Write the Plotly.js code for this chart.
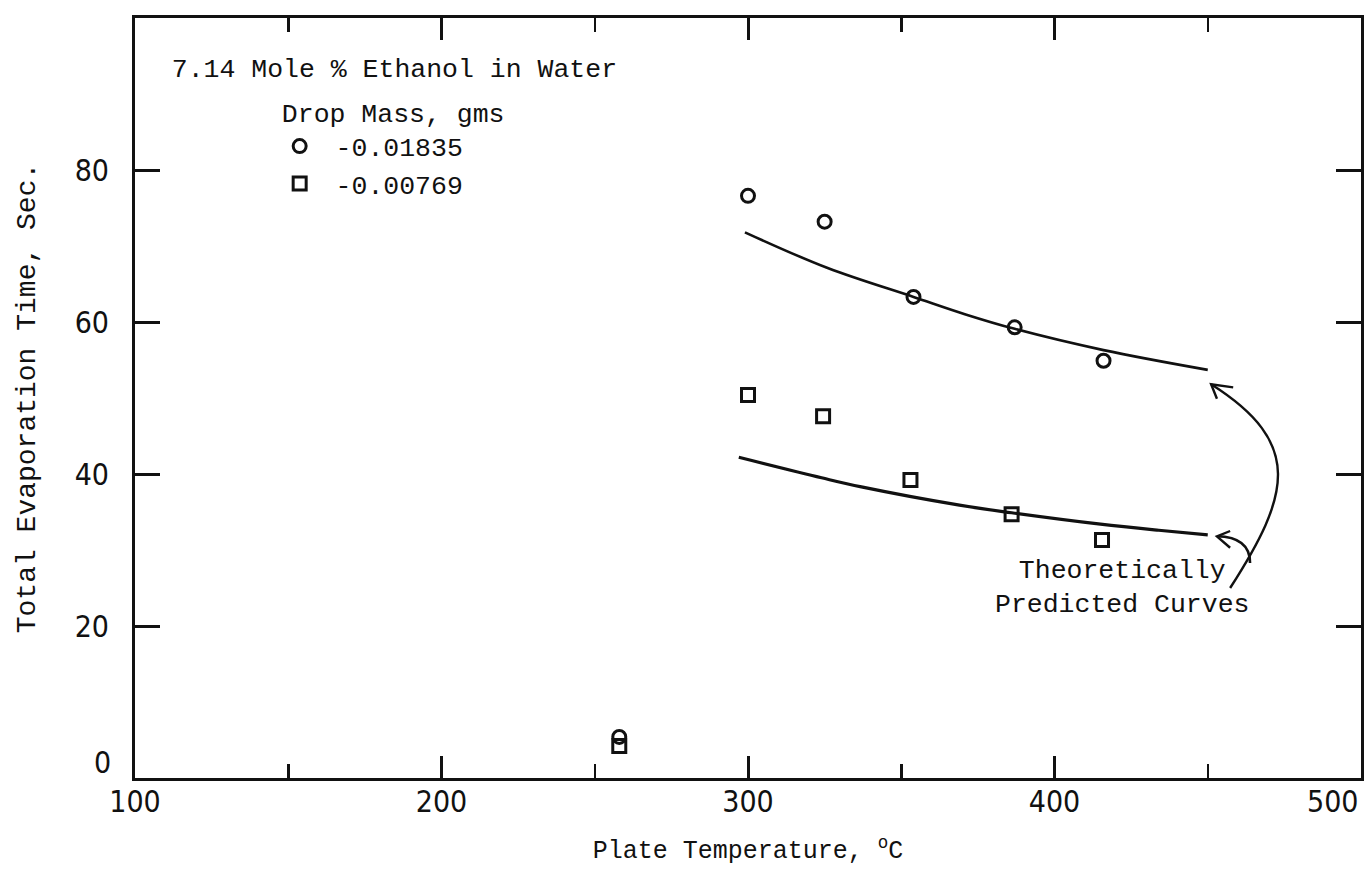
<!DOCTYPE html>
<html>
<head>
<meta charset="utf-8">
<script src="https://cdn.plot.ly/plotly-3.0.1.min.js"></script>
<style>
  html, body { margin: 0; padding: 0; background: #ffffff; }
  #chart { width: 1364px; height: 884px; }
</style>
</head>
<body>
<div id="chart"></div>
<script>
// Measured evaporation times, drop mass 0.01835 g
const tempLarge = [258, 300, 325, 354, 387, 416];
const timeLarge = [5.4, 76.6, 73.2, 63.3, 59.3, 54.9];

// Measured evaporation times, drop mass 0.00769 g
const tempSmall = [258, 300, 324.5, 353, 386, 415.5];
const timeSmall = [4.2, 50.4, 47.6, 39.2, 34.7, 31.3];

// Theoretically predicted curves
const theoryTempLarge = [299, 326, 354, 371, 387, 416, 450];
const theoryTimeLarge = [71.8, 67.1, 63.3, 61.0, 59.1, 56.3, 53.7];
const theoryTempSmall = [297, 324, 337, 369, 386, 415, 434, 450];
const theoryTimeSmall = [42.2, 39.5, 38.3, 35.9, 34.9, 33.4, 32.6, 32.0];

// Axis ticks (the corner labels "0" and "500" are placed separately
// so they can sit inside the page edge like the hand-lettered ones)
const xMajorTicks = [100, 200, 300, 400];
const xMajorLabels = ['100', '200', '300', '400'];
const xMinorTicks = [150, 250, 350, 450];
const yTicks = [20, 40, 60, 80];
const yLabels = ['20', '40', '60', '80'];
const xEndLabel = '500';
const yOriginLabel = '0';

const typeFont = 'Liberation Mono, Courier New, monospace';
const digitFont = 'Liberation Sans Narrow, DejaVu Sans Condensed, Liberation Sans, sans-serif';
const ink = '#111111';
const nbsp = '\u00a0';

const traces = [
  {
    x: theoryTempLarge, y: theoryTimeLarge, type: 'scatter', mode: 'lines',
    line: { color: ink, width: 2.6, shape: 'spline', smoothing: 1 },
    showlegend: false, hoverinfo: 'skip'
  },
  {
    x: theoryTempSmall, y: theoryTimeSmall, type: 'scatter', mode: 'lines',
    line: { color: ink, width: 3.2, shape: 'spline', smoothing: 1 },
    showlegend: false, hoverinfo: 'skip'
  },
  {
    x: tempLarge, y: timeLarge, type: 'scatter', mode: 'markers', name: nbsp + '-0.01835',
    marker: { symbol: 'circle-open', size: 13, color: ink, line: { width: 3, color: ink } }
  },
  {
    x: tempSmall, y: timeSmall, type: 'scatter', mode: 'markers', name: nbsp + '-0.00769',
    marker: { symbol: 'square-open', size: 13, color: ink, line: { width: 3, color: ink } }
  }
];

// Curved pointer arrows from the caption to the two predicted curves
const shapes = [
  {
    type: 'path', xref: 'x', yref: 'y',
    path: 'M 457.3,25.0 C 476.7,37.2 481.6,44.0 451.1,51.8',
    line: { color: ink, width: 2.4 }
  },
  {
    type: 'path', xref: 'x', yref: 'y',
    path: 'M 458.3,51.4 L 451.1,51.8 L 453.0,49.9',
    line: { color: ink, width: 2.4 }
  },
  {
    type: 'path', xref: 'x', yref: 'y',
    path: 'M 463.8,28.3 Q 463.8,31.7 453.0,31.8',
    line: { color: ink, width: 2.6 }
  },
  {
    type: 'path', xref: 'x', yref: 'y',
    path: 'M 457.3,32.5 L 453.0,31.8 L 457.3,30.3',
    line: { color: ink, width: 2.4 }
  }
];

const annotations = [
  {
    x: 422, y: 25, xref: 'x', yref: 'y',
    text: 'Theoretically<br>Predicted Curves',
    showarrow: false, align: 'center',
    font: { family: typeFont, size: 26.5, color: ink }
  },
  {
    x: 500, y: 0, xref: 'x', yref: 'y', xanchor: 'right', yanchor: 'top', yshift: -4,
    text: xEndLabel, showarrow: false,
    font: { family: digitFont, size: 30, color: ink }
  },
  {
    x: 0, y: 2, xref: 'paper', yref: 'y', xanchor: 'right', yanchor: 'middle', xshift: -22,
    text: yOriginLabel, showarrow: false,
    font: { family: digitFont, size: 30, color: ink }
  }
];

const layout = {
  width: 1364, height: 884,
  margin: { l: 135, r: 3, t: 18, b: 106 },
  paper_bgcolor: '#ffffff', plot_bgcolor: '#ffffff',
  font: { family: typeFont, color: ink },
  title: {
    text: '7.14 Mole % Ethanol in Water',
    xref: 'paper', yref: 'paper', x: 0.03, y: 0.934,
    xanchor: 'left', yanchor: 'middle',
    font: { family: typeFont, size: 26.5, color: ink }
  },
  showlegend: true,
  legend: {
    x: 0.118, y: 0.908, xanchor: 'left', yanchor: 'top',
    bgcolor: 'rgba(0,0,0,0)', borderwidth: 0,
    font: { family: typeFont, size: 26.5, color: ink },
    title: { text: 'Drop Mass, gms', side: 'top center', font: { family: typeFont, size: 26.5, color: ink } },
    tracegroupgap: 0
  },
  xaxis: {
    range: [100, 500], fixedrange: true,
    tickmode: 'array', tickvals: xMajorTicks, ticktext: xMajorLabels,
    ticks: 'inside', ticklen: 22, tickwidth: 3, tickcolor: ink,
    minor: { tickmode: 'array', tickvals: xMinorTicks, ticks: 'inside', ticklen: 14, tickwidth: 2.5, tickcolor: ink, showgrid: false },
    showline: true, linewidth: 3, linecolor: ink, mirror: 'ticks',
    showgrid: false, zeroline: false,
    tickfont: { family: digitFont, size: 30, color: ink },
    ticklabelstandoff: -5,
    automargin: false,
    title: { text: 'Plate Temperature, <sup>o</sup>C', standoff: 23, font: { family: typeFont, size: 25, color: ink } }
  },
  yaxis: {
    range: [0, 100], fixedrange: true,
    tickmode: 'array', tickvals: yTicks, ticktext: yLabels,
    ticks: 'inside', ticklen: 25, tickwidth: 3, tickcolor: ink,
    showline: true, linewidth: 3, linecolor: ink, mirror: 'ticks',
    showgrid: false, zeroline: false,
    tickfont: { family: digitFont, size: 30, color: ink },
    ticklabelstandoff: 17,
    automargin: false,
    title: { text: 'Total Evaporation Time, Sec.', standoff: 31, font: { family: typeFont, size: 28, color: ink } }
  },
  shapes: shapes,
  annotations: annotations
};

Plotly.newPlot('chart', traces, layout, { staticPlot: true, displayModeBar: false });
</script>
</body>
</html>
